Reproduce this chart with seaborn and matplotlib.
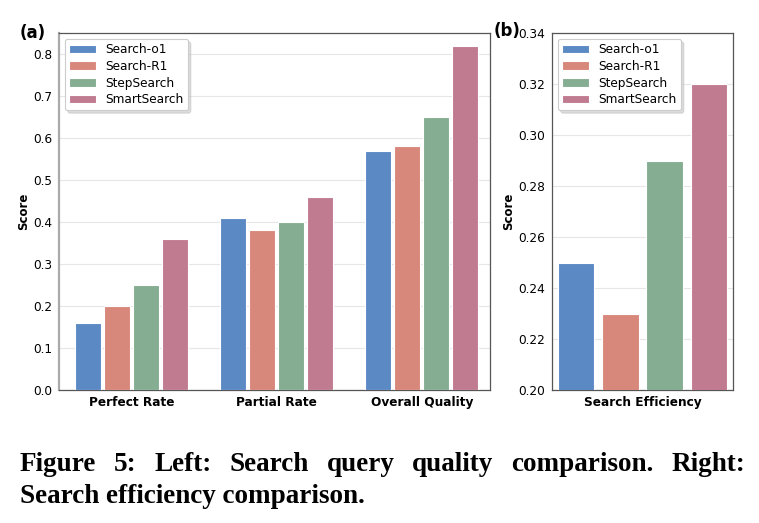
import matplotlib
matplotlib.use("Agg")
import matplotlib.pyplot as plt
import seaborn as sns
import pandas as pd

methods = ["Search-o1", "Search-R1", "StepSearch", "SmartSearch"]
metrics = ["Perfect Rate", "Partial Rate", "Overall Quality"]
perfect_rate = [0.16, 0.20, 0.25, 0.36]
partial_rate = [0.41, 0.38, 0.40, 0.46]
overall_quality = [0.57, 0.58, 0.65, 0.82]
efficiency_label = ["Search Efficiency"]
search_efficiency = [0.25, 0.23, 0.29, 0.32]
left_yticks = [0.0, 0.1, 0.2, 0.3, 0.4, 0.5, 0.6, 0.7, 0.8]
right_yticks = [0.20, 0.22, 0.24, 0.26, 0.28, 0.30, 0.32, 0.34]
colors = ["#5B89C4", "#D8887A", "#85AD91", "#C07B90"]
caption_line1 = "Figure 5: Left: Search query quality comparison. Right:"
caption_line2 = "Search efficiency comparison."

sns.set_theme(style="white")
plt.rcParams["font.family"] = ["DejaVu Sans"]
plt.rcParams["text.color"] = "black"
plt.rcParams["axes.labelcolor"] = "black"
plt.rcParams["xtick.color"] = "black"
plt.rcParams["ytick.color"] = "black"

rows = []
for m, vals in zip(metrics, [perfect_rate, partial_rate, overall_quality]):
    for meth, v in zip(methods, vals):
        rows.append({"metric": m, "method": meth, "score": v})
df_left = pd.DataFrame(rows)
df_right = pd.DataFrame({"metric": efficiency_label * len(methods),
                         "method": methods, "score": search_efficiency})

W, H = 759, 523
fig = plt.figure(figsize=(W / 100, H / 100), dpi=100)

def box(x0, y0, x1, y1):
    return [x0 / W, 1 - y1 / H, (x1 - x0) / W, (y1 - y0) / H]

axL = fig.add_axes(box(59, 33, 490, 390))
axR = fig.add_axes(box(552, 33, 733, 390))

pal = dict(zip(methods, colors))
sns.barplot(data=df_left, x="metric", y="score", hue="method", palette=pal,
            width=0.8, gap=0.1, edgecolor="white", linewidth=0.8, saturation=1,
            ax=axL, zorder=3)
sns.barplot(data=df_right, x="metric", y="score", hue="method", palette=pal,
            width=0.8, gap=0.18, edgecolor="white", linewidth=0.8, saturation=1,
            ax=axR, zorder=3)

for ax, yt, ylim, xlim in [(axL, left_yticks, (0, 0.85), (-0.5, 2.47)),
                           (axR, right_yticks, (0.20, 0.34), (-0.41, 0.41))]:
    ax.set_ylim(*ylim)
    ax.set_xlim(*xlim)
    ax.set_yticks(yt)
    ax.grid(axis="y", color="#e6e6e6", linewidth=0.8, zorder=0)
    ax.set_axisbelow(True)
    ax.set_xlabel("")
    ax.set_ylabel("Score", fontsize=8.5, fontweight="bold", labelpad=2)
    ax.tick_params(axis="y", labelsize=8.7, length=3, width=0.8, color="#555555", pad=2)
    ax.tick_params(axis="x", labelsize=8.7, length=3, width=0.8, color="#555555", pad=1)
    for lbl in ax.get_xticklabels():
        lbl.set_fontweight("bold")
    for s in ax.spines.values():
        s.set_color("#555555")
        s.set_linewidth(0.9)
    leg = ax.legend(loc="upper left", fontsize=8.7, frameon=True, fancybox=True,
                    shadow={"color": "#bbbbbb", "alpha": 0.5},
                    borderpad=0.35, handlelength=2.2, handleheight=0.7,
                    labelspacing=0.3, borderaxespad=0.5)
    leg.get_frame().set_edgecolor("#cccccc")
    leg.get_frame().set_linewidth(0.8)

axL.spines["left"].set_color("#aaaaaa")
axL.spines["left"].set_linewidth(1.6)
axR.set_yticklabels([f"{v:.2f}" for v in right_yticks])

fig.text(20 / W, 1 - 38 / H, "(a)", fontsize=12, fontweight="bold")
fig.text(494 / W, 1 - 36 / H, "(b)", fontsize=12, fontweight="bold")

# caption, justified first line
cap_font = dict(family="Liberation Serif", fontweight="bold", fontsize=19.5)
words = caption_line1.split(" ")
fig.canvas.draw()
renderer = fig.canvas.get_renderer()
x_left, x_right = 20, 745
texts = []
widths = []
for w in words:
    t = fig.text(0, 0, w, **cap_font)
    bb = t.get_window_extent(renderer=renderer)
    widths.append(bb.width)
    texts.append(t)
space = (x_right - x_left - sum(widths)) / (len(words) - 1)
x = x_left
y1 = 1 - 471 / H
for t, wd in zip(texts, widths):
    t.set_position((x / W, y1))
    x += wd + space
fig.text(x_left / W, 1 - 503 / H, caption_line2, **cap_font)

fig.savefig("out.png", dpi=100)
